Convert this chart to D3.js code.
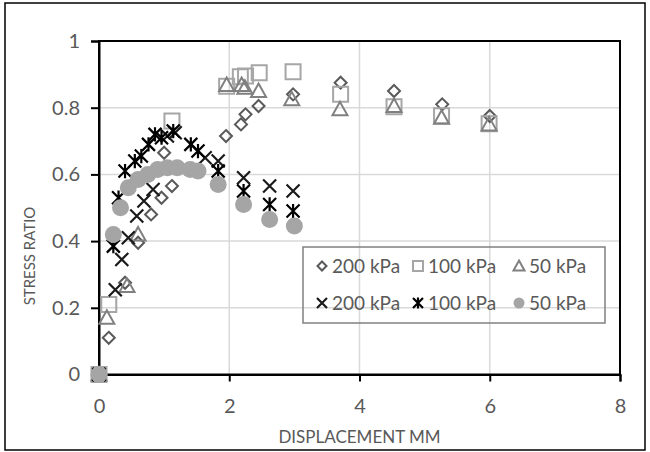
<!DOCTYPE html>
<html><head><meta charset="utf-8">
<script src="https://cdn.jsdelivr.net/npm/d3@7"></script>
<style>
html,body{margin:0;padding:0;background:#fff;}
svg{display:block;font-family:Lato,"Open Sans",sans-serif;}
</style></head>
<body><svg id="c" width="650" height="452"></svg>
<script>
// ---- data ----
const xTicks = [0, 2, 4, 6, 8];
const yTicks = [0, 0.2, 0.4, 0.6, 0.8, 1];
const xTitle = "DISPLACEMENT MM";
const yTitle = "STRESS RATIO";

const d200x = [0, 0.15, 0.4, 0.6, 0.8, 0.96, 1.0, 1.12, 1.95, 2.18, 2.25, 2.45, 2.98, 3.71, 4.53, 5.27, 6.0];
const d200y = [0, 0.11, 0.275, 0.395, 0.48, 0.53, 0.665, 0.565, 0.715, 0.75, 0.78, 0.805, 0.84, 0.875, 0.85, 0.81, 0.775];

const s100x = [0, 0.15, 1.12, 1.96, 2.17, 2.25, 2.46, 2.98, 3.71, 4.53, 5.26, 5.99];
const s100y = [0, 0.21, 0.76, 0.864, 0.893, 0.895, 0.905, 0.908, 0.84, 0.803, 0.776, 0.752];

const t50x = [0, 0.12, 0.43, 0.6, 1.96, 2.19, 2.24, 2.45, 2.96, 3.7, 4.53, 5.26, 5.99];
const t50y = [0, 0.17, 0.265, 0.42, 0.868, 0.868, 0.86, 0.85, 0.825, 0.795, 0.805, 0.77, 0.75];

const x200x = [0, 0.25, 0.35, 0.45, 0.58, 0.69, 0.83, 1.05, 1.17, 1.63, 1.83, 2.22, 2.62, 2.98];
const x200y = [0, 0.254, 0.345, 0.41, 0.475, 0.52, 0.555, 0.715, 0.725, 0.65, 0.64, 0.59, 0.565, 0.55];

const a100x = [0, 0.22, 0.3, 0.4, 0.55, 0.65, 0.76, 0.86, 0.96, 1.14, 1.41, 1.52, 1.83, 2.22, 2.62, 2.98];
const a100y = [0, 0.385, 0.53, 0.61, 0.64, 0.655, 0.69, 0.72, 0.71, 0.73, 0.69, 0.67, 0.61, 0.55, 0.51, 0.49];

const c50x = [0, 0.22, 0.33, 0.45, 0.6, 0.75, 0.9, 1.05, 1.2, 1.4, 1.52, 1.83, 2.22, 2.62, 3.0];
const c50y = [0, 0.42, 0.5, 0.56, 0.585, 0.6, 0.615, 0.62, 0.62, 0.615, 0.61, 0.57, 0.51, 0.465, 0.445];

const legendLabels = ["200 kPa", "100 kPa", "50 kPa", "200 kPa", "100 kPa", "50 kPa"];

// ---- chart ----
const svg = d3.select("#c");
const L = 99, R = 620, T = 41, B = 374.5;
const x = d3.scaleLinear().domain([0, 8]).range([L, R]);
const y = d3.scaleLinear().domain([0, 1]).range([B, T]);
const txt = "#595959";

// outer border
svg.append("rect").attr("x", 5).attr("y", 3).attr("width", 640).attr("height", 447)
  .attr("fill", "none").attr("stroke", "#000").attr("stroke-width", 1.5);

// gridlines
const g = svg.append("g");
g.selectAll(".hg").data(yTicks.slice(1)).join("line")
  .attr("x1", L).attr("x2", R).attr("y1", d => y(d)).attr("y2", d => y(d))
  .attr("stroke", "#d9d9d9").attr("stroke-width", 1.5);
g.selectAll(".vg").data(xTicks.slice(1)).join("line")
  .attr("y1", T).attr("y2", B).attr("x1", d => x(d)).attr("x2", d => x(d))
  .attr("stroke", "#d9d9d9").attr("stroke-width", 1.5);

// plot border (top/right)
svg.append("rect").attr("x", L).attr("y", T).attr("width", R - L).attr("height", B - T)
  .attr("fill", "none").attr("stroke", "#000").attr("stroke-width", 2);

// axes
const yAxis = d3.axisLeft(y).tickValues(yTicks).tickSize(8).tickPadding(11).tickFormat(d3.format("~g"));
const xAxis = d3.axisBottom(x).tickValues(xTicks).tickSize(7).tickPadding(17).tickFormat(d3.format("~g"));
const ya = svg.append("g").attr("transform", `translate(${L},0)`).call(yAxis);
const xa = svg.append("g").attr("transform", `translate(0,${B})`).call(xAxis);
[ya, xa].forEach(a => {
  a.select(".domain").attr("stroke", "#000").attr("stroke-width", 2);
  a.selectAll(".tick line").attr("stroke", "#000").attr("stroke-width", 2);
  a.selectAll("text").attr("fill", txt).style("font-size", "20px").style("font-family", "Lato");
});

svg.append("text").attr("x", x(4)).attr("y", 443).attr("text-anchor", "middle")
  .attr("fill", txt).style("font-size", "17px").text(xTitle);
svg.append("text").attr("transform", "translate(35,256) rotate(-90)").attr("text-anchor", "middle")
  .attr("fill", txt).style("font-size", "15px").text(yTitle);

// marker shapes
function diamond(s) { const p = d3.path(); p.moveTo(0, -s); p.lineTo(s, 0); p.lineTo(0, s); p.lineTo(-s, 0); p.closePath(); return p.toString(); }
function square(s) { const p = d3.path(); p.rect(-s, -s, 2 * s, 2 * s); return p.toString(); }
function triangle(s) { const p = d3.path(); p.moveTo(0, -s); p.lineTo(s, s * 0.8); p.lineTo(-s, s * 0.8); p.closePath(); return p.toString(); }
function cross(s) { const p = d3.path(); p.moveTo(-s, -s); p.lineTo(s, s); p.moveTo(-s, s); p.lineTo(s, -s); return p.toString(); }
function star(s) { const p = d3.path(); p.moveTo(-s, -s); p.lineTo(s, s); p.moveTo(-s, s); p.lineTo(s, -s); p.moveTo(0, -s * 1.1); p.lineTo(0, s * 1.1); return p.toString(); }
function circle(s) { const p = d3.path(); p.arc(0, 0, s, 0, 2 * Math.PI); return p.toString(); }

const series = [
  { xs: d200x, ys: d200y, shape: diamond, size: 6, lsize: 4.5, stroke: "#595959", fill: "none", sw: 2 },
  { xs: s100x, ys: s100y, shape: square, size: 7.5, lsize: 5, stroke: "#a6a6a6", fill: "none", sw: 2 },
  { xs: t50x, ys: t50y, shape: triangle, size: 7.5, lsize: 5.5, stroke: "#808080", fill: "none", sw: 2 },
  { xs: x200x, ys: x200y, shape: cross, size: 6.5, lsize: 5, stroke: "#1a1a1a", fill: "none", sw: 2.2 },
  { xs: a100x, ys: a100y, shape: star, size: 6.5, lsize: 5, stroke: "#000", fill: "none", sw: 2.2 },
  { xs: c50x, ys: c50y, shape: circle, size: 8.5, lsize: 5.5, stroke: "none", fill: "#a5a5a5", sw: 0 }
];

series.forEach(s => {
  const pts = s.xs.map((v, i) => [v, s.ys[i]]);
  svg.append("g").selectAll("path").data(pts).join("path")
    .attr("transform", d => `translate(${x(d[0])},${y(d[1])})`)
    .attr("d", s.shape(s.size))
    .attr("fill", s.fill).attr("stroke", s.stroke).attr("stroke-width", s.sw);
});

// legend
const lg = svg.append("g");
lg.append("rect").attr("x", 303).attr("y", 247).attr("width", 302).attr("height", 76)
  .attr("fill", "none").attr("stroke", "#808080").attr("stroke-width", 1.5);
const colX = [322, 418, 519], rowY = [266, 303];
series.forEach((s, i) => {
  const cx = colX[i % 3], cy = rowY[Math.floor(i / 3)];
  lg.append("path").attr("transform", `translate(${cx},${cy})`).attr("d", s.shape(s.lsize))
    .attr("fill", s.fill).attr("stroke", s.stroke).attr("stroke-width", s.sw);
  lg.append("text").attr("x", cx + 10).attr("y", cy).attr("dy", "0.35em")
    .attr("fill", txt).style("font-size", "19px").text(legendLabels[i]);
});
</script></body></html>
